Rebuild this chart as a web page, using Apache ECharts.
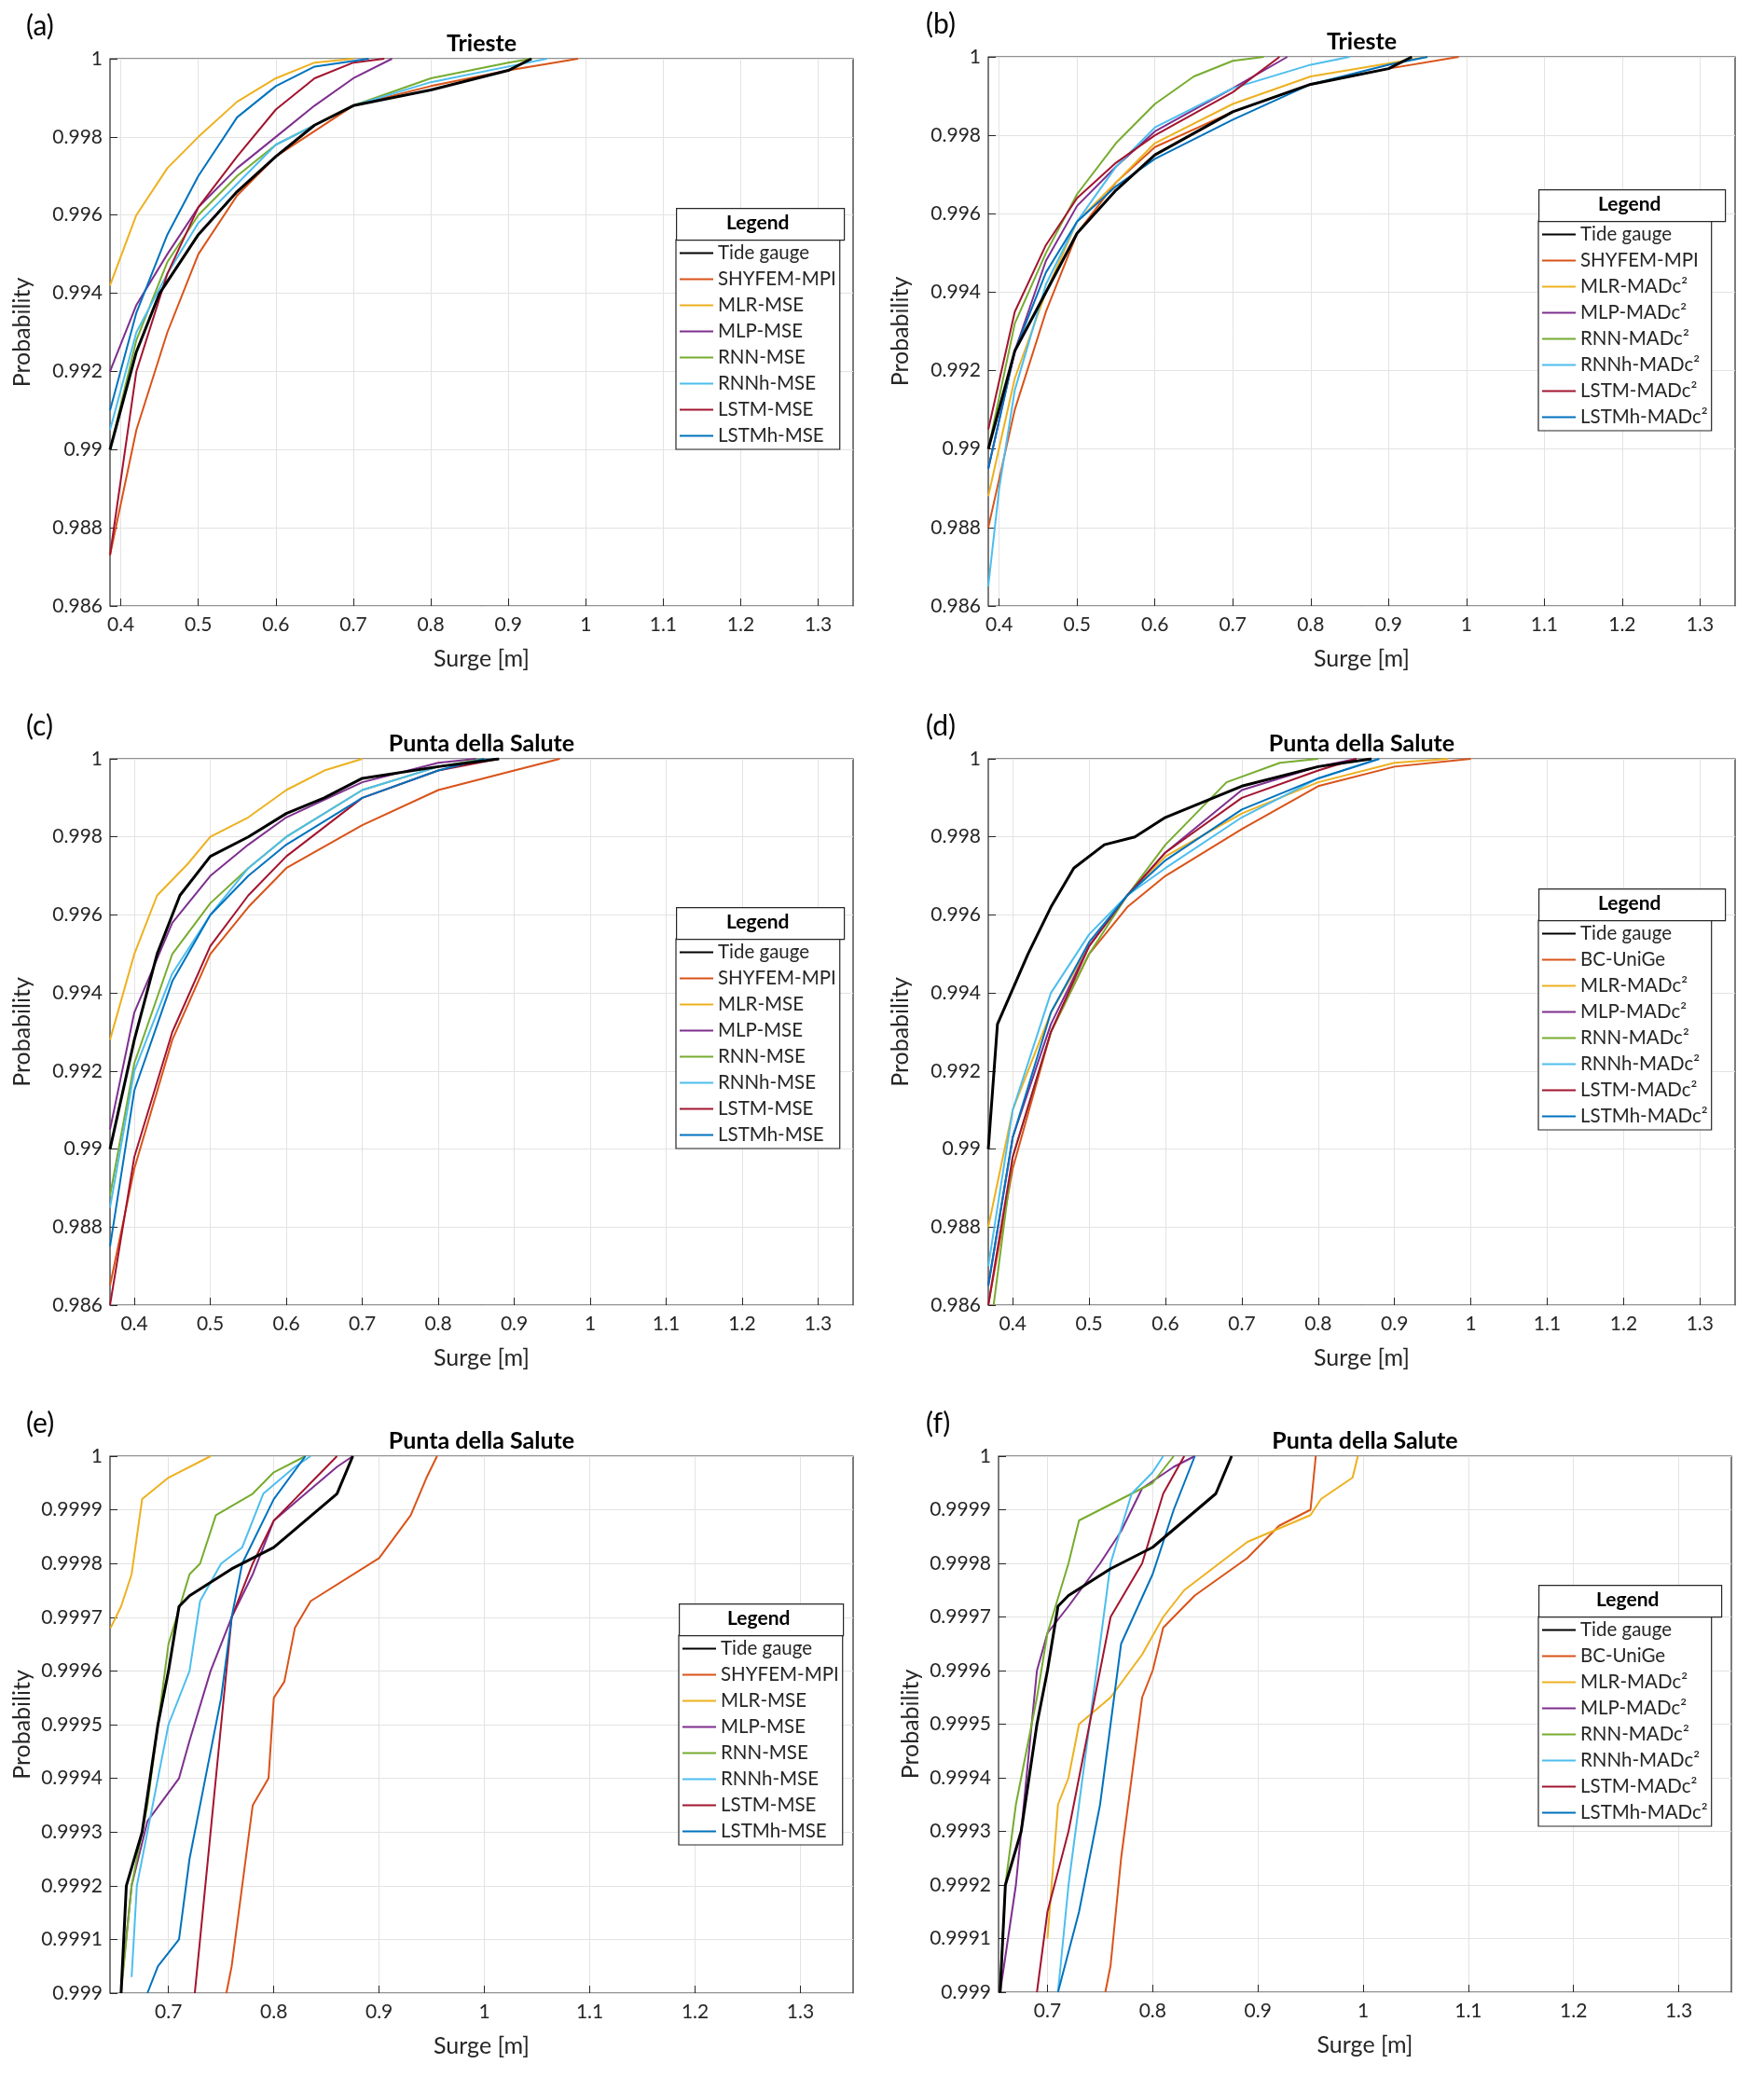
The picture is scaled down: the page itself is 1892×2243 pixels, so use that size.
<!DOCTYPE html>
<html><head><meta charset="utf-8">
<script src="https://cdn.jsdelivr.net/npm/echarts@6/dist/echarts.min.js"></script>
<style>html,body{margin:0;background:#fff}#c{width:1892px;height:2243px}</style>
</head><body><div id="c"></div>
<script>
// names and colours
const namesMSE = ["Tide gauge","SHYFEM-MPI","MLR-MSE","MLP-MSE","RNN-MSE","RNNh-MSE","LSTM-MSE","LSTMh-MSE"];
const namesMAD1 = ["Tide gauge","SHYFEM-MPI","MLR-MADc²","MLP-MADc²","RNN-MADc²","RNNh-MADc²","LSTM-MADc²","LSTMh-MADc²"];
const namesMAD2 = ["Tide gauge","BC-UniGe","MLR-MADc²","MLP-MADc²","RNN-MADc²","RNNh-MADc²","LSTM-MADc²","LSTMh-MADc²"];
const colors = ["#000000","#D95319","#EDB120","#7E2F8E","#77AC30","#4DBEEE","#A2142F","#0072BD"];

const xTicks = [0.4,0.5,0.6,0.7,0.8,0.9,1,1.1,1.2,1.3];
const xTicksE = [0.7,0.8,0.9,1,1.1,1.2,1.3];
const yTicks = [0.986,0.988,0.99,0.992,0.994,0.996,0.998,1];
const yTicksE = [0.999,0.9991,0.9992,0.9993,0.9994,0.9995,0.9996,0.9997,0.9998,0.9999,1];

// panel (a) Trieste, MSE
const dataA = [
 [[0.386,0.990],[0.42,0.9925],[0.45,0.994],[0.5,0.9955],[0.55,0.9966],[0.6,0.9975],[0.65,0.9983],[0.7,0.9988],[0.8,0.9992],[0.9,0.9997],[0.93,1]],
 [[0.386,0.9873],[0.42,0.9905],[0.46,0.993],[0.5,0.995],[0.55,0.9965],[0.6,0.9975],[0.7,0.9988],[0.8,0.9993],[0.9,0.9997],[0.99,1]],
 [[0.386,0.9942],[0.42,0.996],[0.46,0.9972],[0.5,0.998],[0.55,0.9989],[0.6,0.9995],[0.65,0.9999],[0.7,1]],
 [[0.386,0.992],[0.42,0.9937],[0.46,0.995],[0.5,0.9962],[0.55,0.9972],[0.6,0.998],[0.65,0.9988],[0.7,0.9995],[0.75,1]],
 [[0.386,0.990],[0.42,0.9928],[0.46,0.9948],[0.5,0.996],[0.55,0.997],[0.6,0.9978],[0.7,0.9988],[0.8,0.9995],[0.9,0.9999],[0.93,1]],
 [[0.386,0.9905],[0.42,0.993],[0.46,0.9945],[0.5,0.9958],[0.55,0.9968],[0.6,0.9978],[0.7,0.9988],[0.8,0.9994],[0.9,0.9998],[0.95,1]],
 [[0.386,0.9873],[0.42,0.992],[0.46,0.9945],[0.5,0.9962],[0.55,0.9975],[0.6,0.9987],[0.65,0.9995],[0.7,0.9999],[0.74,1]],
 [[0.386,0.991],[0.42,0.9935],[0.46,0.9955],[0.5,0.997],[0.55,0.9985],[0.6,0.9993],[0.65,0.9998],[0.72,1]]
];
// panel (b) Trieste, MADc2
const dataB = [
 [[0.386,0.990],[0.42,0.9925],[0.46,0.994],[0.5,0.9955],[0.55,0.9966],[0.6,0.9975],[0.7,0.9986],[0.8,0.9993],[0.9,0.9997],[0.93,1]],
 [[0.386,0.988],[0.42,0.991],[0.46,0.9935],[0.5,0.9955],[0.55,0.9968],[0.6,0.9977],[0.7,0.9986],[0.8,0.9993],[0.9,0.9997],[0.99,1]],
 [[0.386,0.9888],[0.42,0.9918],[0.46,0.994],[0.5,0.9958],[0.55,0.9968],[0.6,0.9978],[0.7,0.9988],[0.8,0.9995],[0.95,1]],
 [[0.386,0.9895],[0.42,0.9925],[0.46,0.9948],[0.5,0.9962],[0.55,0.9972],[0.6,0.9981],[0.7,0.9992],[0.77,1]],
 [[0.386,0.990],[0.42,0.9932],[0.46,0.995],[0.5,0.9965],[0.55,0.9978],[0.6,0.9988],[0.65,0.9995],[0.7,0.9999],[0.74,1]],
 [[0.386,0.9865],[0.4,0.989],[0.42,0.9915],[0.46,0.9942],[0.5,0.9958],[0.55,0.9972],[0.6,0.9982],[0.7,0.9992],[0.8,0.9998],[0.85,1]],
 [[0.386,0.9905],[0.42,0.9935],[0.46,0.9952],[0.5,0.9964],[0.55,0.9973],[0.6,0.998],[0.7,0.9991],[0.76,1]],
 [[0.386,0.9895],[0.42,0.9925],[0.46,0.9945],[0.5,0.9958],[0.55,0.9967],[0.6,0.9974],[0.7,0.9984],[0.8,0.9993],[0.9,0.9998],[0.95,1]]
];
// panel (c) Punta della Salute, MSE
const dataC = [
 [[0.368,0.990],[0.4,0.9928],[0.43,0.995],[0.46,0.9965],[0.5,0.9975],[0.55,0.998],[0.6,0.9986],[0.65,0.999],[0.7,0.9995],[0.8,0.9998],[0.88,1]],
 [[0.368,0.9865],[0.4,0.9895],[0.45,0.9928],[0.5,0.995],[0.55,0.9962],[0.6,0.9972],[0.7,0.9983],[0.8,0.9992],[0.9,0.9997],[0.96,1]],
 [[0.368,0.9928],[0.4,0.995],[0.43,0.9965],[0.47,0.9973],[0.5,0.998],[0.55,0.9985],[0.6,0.9992],[0.65,0.9997],[0.7,1]],
 [[0.368,0.9905],[0.4,0.9935],[0.45,0.9958],[0.5,0.997],[0.55,0.9978],[0.6,0.9985],[0.7,0.9994],[0.8,0.9999],[0.85,1]],
 [[0.368,0.9888],[0.4,0.9922],[0.45,0.995],[0.5,0.9963],[0.55,0.9972],[0.6,0.998],[0.7,0.9992],[0.8,0.9998],[0.86,1]],
 [[0.368,0.9885],[0.4,0.992],[0.45,0.9945],[0.5,0.996],[0.55,0.9972],[0.6,0.998],[0.7,0.9992],[0.8,0.9998],[0.87,1]],
 [[0.368,0.986],[0.4,0.9898],[0.45,0.993],[0.5,0.9952],[0.55,0.9965],[0.6,0.9975],[0.7,0.999],[0.8,0.9997],[0.88,1]],
 [[0.368,0.9875],[0.4,0.9915],[0.45,0.9943],[0.5,0.996],[0.55,0.997],[0.6,0.9978],[0.7,0.999],[0.8,0.9997],[0.86,1]]
];
// panel (d) Punta della Salute, MADc2
const dataD = [
 [[0.368,0.990],[0.38,0.9932],[0.42,0.995],[0.45,0.9962],[0.48,0.9972],[0.52,0.9978],[0.56,0.998],[0.6,0.9985],[0.65,0.9989],[0.7,0.9993],[0.8,0.9998],[0.87,1]],
 [[0.368,0.986],[0.4,0.9895],[0.45,0.993],[0.5,0.995],[0.55,0.9962],[0.6,0.997],[0.7,0.9982],[0.8,0.9993],[0.9,0.9998],[1.0,1]],
 [[0.368,0.988],[0.4,0.991],[0.45,0.9935],[0.5,0.9952],[0.55,0.9965],[0.6,0.9975],[0.7,0.9986],[0.8,0.9994],[0.9,0.9999],[0.97,1]],
 [[0.368,0.9865],[0.4,0.9903],[0.45,0.9932],[0.5,0.9952],[0.55,0.9965],[0.6,0.9976],[0.7,0.9992],[0.8,0.9998],[0.85,1]],
 [[0.375,0.986],[0.4,0.9898],[0.45,0.993],[0.5,0.995],[0.55,0.9965],[0.6,0.9978],[0.68,0.9994],[0.75,0.9999],[0.8,1]],
 [[0.368,0.987],[0.4,0.991],[0.45,0.994],[0.5,0.9955],[0.55,0.9965],[0.6,0.9972],[0.7,0.9985],[0.8,0.9995],[0.88,1]],
 [[0.368,0.986],[0.4,0.9898],[0.45,0.993],[0.5,0.9952],[0.55,0.9965],[0.6,0.9976],[0.7,0.999],[0.8,0.9997],[0.85,1]],
 [[0.368,0.9865],[0.4,0.9903],[0.45,0.9935],[0.5,0.9953],[0.55,0.9965],[0.6,0.9974],[0.7,0.9987],[0.8,0.9995],[0.88,1]]
];
// panel (e) Punta della Salute tail, MSE
const dataE = [
 [[0.655,0.9990],[0.66,0.9992],[0.675,0.9993],[0.69,0.9995],[0.7,0.9996],[0.71,0.99972],[0.72,0.99974],[0.76,0.99979],[0.8,0.99983],[0.83,0.99988],[0.86,0.99993],[0.875,1]],
 [[0.755,0.999],[0.76,0.99905],[0.77,0.9992],[0.78,0.99935],[0.795,0.9994],[0.8,0.99955],[0.81,0.99958],[0.82,0.99968],[0.835,0.99973],[0.9,0.99981],[0.93,0.99989],[0.945,0.99996],[0.955,1]],
 [[0.645,0.99968],[0.655,0.99972],[0.665,0.99978],[0.675,0.99992],[0.7,0.99996],[0.74,1]],
 [[0.655,0.99901],[0.665,0.9992],[0.68,0.99932],[0.71,0.9994],[0.72,0.99947],[0.74,0.9996],[0.76,0.9997],[0.78,0.99978],[0.8,0.99988],[0.83,0.99993],[0.86,0.99998],[0.875,1]],
 [[0.655,0.9990],[0.665,0.9992],[0.68,0.99935],[0.69,0.9995],[0.7,0.99965],[0.72,0.99978],[0.73,0.9998],[0.745,0.99989],[0.78,0.99993],[0.8,0.99997],[0.83,1]],
 [[0.665,0.99903],[0.67,0.9992],[0.69,0.9994],[0.7,0.9995],[0.72,0.9996],[0.73,0.99973],[0.75,0.9998],[0.77,0.99983],[0.79,0.99993],[0.82,0.99998],[0.835,1]],
 [[0.725,0.999],[0.73,0.9991],[0.74,0.9993],[0.75,0.9995],[0.76,0.9997],[0.78,0.9998],[0.8,0.99988],[0.82,0.99992],[0.84,0.99996],[0.86,1]],
 [[0.68,0.999],[0.69,0.99905],[0.71,0.9991],[0.72,0.99925],[0.735,0.9994],[0.75,0.99955],[0.76,0.9997],[0.77,0.9998],[0.8,0.99992],[0.83,1]]
];
// panel (f) Punta della Salute tail, MADc2
const dataF = [
 [[0.655,0.9990],[0.66,0.9992],[0.675,0.9993],[0.69,0.9995],[0.7,0.9996],[0.71,0.99972],[0.72,0.99974],[0.76,0.99979],[0.8,0.99983],[0.83,0.99988],[0.86,0.99993],[0.875,1]],
 [[0.755,0.999],[0.76,0.99905],[0.77,0.99925],[0.78,0.9994],[0.79,0.99955],[0.8,0.9996],[0.81,0.99968],[0.84,0.99974],[0.89,0.99981],[0.92,0.99987],[0.95,0.9999],[0.955,1]],
 [[0.7,0.9991],[0.71,0.99935],[0.72,0.9994],[0.73,0.9995],[0.76,0.99955],[0.79,0.99963],[0.81,0.9997],[0.83,0.99975],[0.89,0.99984],[0.95,0.99989],[0.96,0.99992],[0.99,0.99996],[0.995,1]],
 [[0.655,0.999],[0.67,0.9992],[0.68,0.9994],[0.69,0.9996],[0.7,0.99967],[0.72,0.99972],[0.75,0.9998],[0.77,0.99986],[0.79,0.99994],[0.82,0.99998],[0.84,1]],
 [[0.655,0.9990],[0.66,0.9992],[0.67,0.99935],[0.69,0.99955],[0.7,0.99967],[0.72,0.9998],[0.73,0.99988],[0.8,0.99995],[0.82,1]],
 [[0.71,0.999],[0.72,0.9992],[0.73,0.99935],[0.74,0.9995],[0.75,0.99965],[0.76,0.9998],[0.78,0.99993],[0.8,0.99997],[0.81,1]],
 [[0.69,0.999],[0.7,0.99915],[0.72,0.9993],[0.74,0.9995],[0.76,0.9997],[0.79,0.9998],[0.81,0.99993],[0.83,1]],
 [[0.71,0.999],[0.73,0.99915],[0.75,0.99935],[0.76,0.9995],[0.77,0.99965],[0.8,0.99978],[0.82,0.9999],[0.84,1]]
];

const FONT = "Lato, 'DejaVu Sans', sans-serif";
const panels = [
  {tag:"(a)", title:"Trieste", data:dataA, names:namesMSE, grid:[118,63,797,587], x:[0.386,1.345], xt:xTicks, y:[0.986,1], yt:yTicks, leg:[725,223,180]},
  {tag:"(b)", title:"Trieste", data:dataB, names:namesMAD1, grid:[1060,61,801,589], x:[0.386,1.345], xt:xTicks, y:[0.986,1], yt:yTicks, leg:[1650,203,200]},
  {tag:"(c)", title:"Punta della Salute", data:dataC, names:namesMSE, grid:[118,814,797,586], x:[0.368,1.346], xt:xTicks, y:[0.986,1], yt:yTicks, leg:[725,973,180]},
  {tag:"(d)", title:"Punta della Salute", data:dataD, names:namesMAD2, grid:[1060,814,801,586], x:[0.368,1.346], xt:xTicks, y:[0.986,1], yt:yTicks, leg:[1650,953,200]},
  {tag:"(e)", title:"Punta della Salute", data:dataE, names:namesMSE, grid:[118,1562,797,576], x:[0.6445,1.35], xt:xTicksE, y:[0.999,1], yt:yTicksE, leg:[728,1720,176]},
  {tag:"(f)", title:"Punta della Salute", data:dataF, names:namesMAD2, grid:[1071,1562,786,575], x:[0.6535,1.35], xt:xTicksE, y:[0.999,1], yt:yTicksE, leg:[1650,1700,196]}
];

const fmt = v => String(parseFloat((+v).toFixed(5)));
const option = {animation:false, textStyle:{fontFamily:FONT}, grid:[], xAxis:[], yAxis:[], series:[], legend:[], graphic:[]};
panels.forEach((p, i) => {
  const [l, t, w, h] = p.grid;
  option.grid.push({left:l, top:t, width:w, height:h, show:true, borderColor:"#262626", borderWidth:1.2, containLabel:false});
  option.xAxis.push({type:"value", gridIndex:i, min:p.x[0], max:p.x[1],
    name:"Surge [m]", nameLocation:"middle", nameGap:44, nameTextStyle:{fontSize:25, color:"#262626", fontFamily:FONT},
    axisLine:{show:false}, axisTick:{inside:true, length:8, customValues:p.xt, lineStyle:{color:"#262626"}},
    axisLabel:{customValues:p.xt, formatter:fmt, fontSize:21, color:"#262626", margin:10},
    splitLine:{show:true, lineStyle:{color:"#e3e3e3"}}});
  option.yAxis.push({type:"value", gridIndex:i, min:p.y[0], max:p.y[1],
    name:"Probability", nameLocation:"middle", nameGap:82, nameTextStyle:{fontSize:25, color:"#262626", fontFamily:FONT},
    axisLine:{show:false}, axisTick:{inside:true, length:8, customValues:p.yt, lineStyle:{color:"#262626"}},
    axisLabel:{customValues:p.yt, formatter:fmt, fontSize:21, color:"#262626", margin:8},
    splitLine:{show:true, lineStyle:{color:"#e3e3e3"}}});
  p.data.forEach((d, k) => {
    option.series.push({type:"line", name:p.names[k], xAxisIndex:i, yAxisIndex:i, data:d, showSymbol:false,
      color:colors[k], lineStyle:{width:k === 0 ? 3 : 2}, z:k === 0 ? 3 : 2});
  });
  const [lx, ly, lw] = p.leg;
  option.legend.push({data:p.names, orient:"vertical", left:lx, top:ly + 34, itemGap:7,
    itemWidth:36, itemHeight:14, icon:"path://M0,6H36V8H0Z", padding:[4, 4, 4, 4],
    borderColor:"#262626", borderWidth:1.2, backgroundColor:"#fff", selectedMode:false,
    textStyle:{fontSize:20.5, color:"#262626", fontFamily:FONT, width:lw - 54, overflow:"none"}});
  option.graphic.push(
    {type:"rect", left:lx, top:ly, shape:{width:lw, height:34}, style:{fill:"#fff", stroke:"#262626", lineWidth:1.2}, z:100},
    {type:"text", left:lx + lw/2 - 36, top:ly + 6, style:{text:"Legend", font:"bold 21px " + FONT, fill:"#000"}, z:101},
    {type:"text", left:i%2 ? 993 : 28, top:t - 50, style:{text:p.tag, font:"30px " + FONT, fill:"#000"}},
    {type:"text", x:l + w/2, y:t - 4, style:{text:p.title, font:"bold 25px " + FONT, fill:"#000", align:"center", verticalAlign:"bottom"}}
  );
});
const chart = echarts.init(document.getElementById("c"));
chart.setOption(option);
</script></body></html>
